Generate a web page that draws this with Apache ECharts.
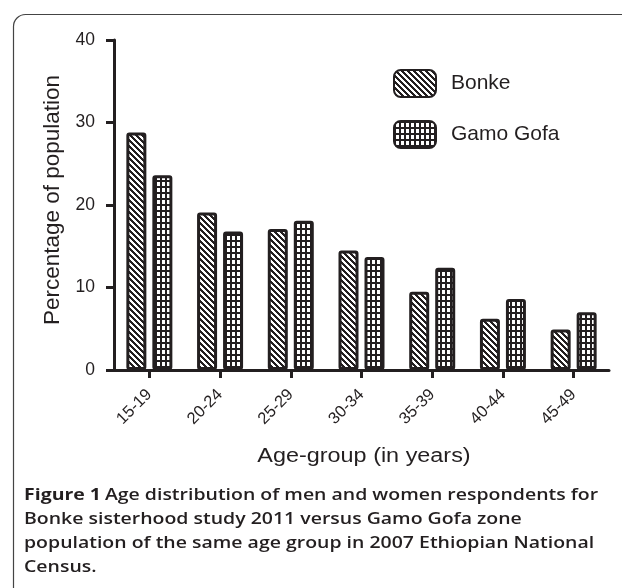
<!DOCTYPE html>
<html>
<head>
<meta charset="utf-8">
<script src="https://cdn.jsdelivr.net/npm/echarts@6/dist/echarts.min.js"></script>
<style>
html,body{margin:0;padding:0;background:#fff;}
#chart{width:622px;height:588px;}
</style>
</head>
<body>
<div id="chart"></div>
<script>
const categories = ['15-19','20-24','25-29','30-34','35-39','40-44','45-49'];
const bonke = [28.8, 19.1, 17.1, 14.5, 9.5, 6.2, 4.9];
const gamoGofa = [23.6, 16.8, 18.1, 13.7, 12.4, 8.6, 7.0];
const yTicks = [0, 10, 20, 30, 40];
const seriesNames = ['Bonke', 'Gamo Gofa'];
const xAxisTitle = 'Age-group (in years)';
const yAxisTitle = 'Percentage of population';
const captionLines = [
  'Age distribution of men and women respondents for',
  'Bonke sisterhood study 2011 versus Gamo Gofa zone',
  'population of the same age group in 2007 Ethiopian National',
  'Census.'
];

const INK = '#231f20';

function diagPattern() {
  const s = 6;
  const c = document.createElement('canvas');
  c.width = s; c.height = s;
  const g = c.getContext('2d');
  g.fillStyle = '#fff'; g.fillRect(0, 0, s, s);
  g.fillStyle = INK;
  for (let y = 0; y < s; y++) {
    for (let x = 0; x < s; x++) {
      if (((x - y) % s + s) % s < 3) g.fillRect(x, y, 1, 1);
    }
  }
  return c;
}
function gridPattern() {
  const w = 5, h = 6;
  const c = document.createElement('canvas');
  c.width = w; c.height = h;
  const g = c.getContext('2d');
  g.fillStyle = '#fff'; g.fillRect(0, 0, w, h);
  g.fillStyle = INK;
  g.fillRect(0, 0, w, 2);
  g.fillRect(0, 0, 2, h);
  return c;
}

const chart = echarts.init(document.getElementById('chart'));
const font = '"Liberation Sans", Arial, Helvetica, sans-serif';
const capFont = '"Open Sans", "Noto Sans", sans-serif';

const option = {
  animation: false,
  backgroundColor: '#fff',
  textStyle: { fontFamily: font, color: INK },
  grid: { left: 114, right: 13, top: 40, bottom: 218, containLabel: false },
  legend: {
    orient: 'vertical',
    left: 393, top: 69,
    itemWidth: 42, itemHeight: 27, itemGap: 22,
    padding: 0,
    data: seriesNames,
    textStyle: { fontFamily: font, fontSize: 21, color: INK, padding: [0, 0, 0, 10] }
  },
  xAxis: {
    type: 'category',
    data: categories,
    axisLine: { show: true, lineStyle: { color: INK, width: 3 } },
    axisTick: { show: true, alignWithLabel: true, length: 8, lineStyle: { color: INK, width: 3 } },
    axisLabel: { rotate: 45, fontSize: 16.5, color: INK, margin: 22, fontFamily: font },
    splitLine: { show: false }
  },
  yAxis: {
    type: 'value',
    min: yTicks[0], max: yTicks[yTicks.length - 1], interval: 10,
    name: yAxisTitle,
    nameLocation: 'middle',
    nameGap: 50,
    nameTextStyle: { fontFamily: font, fontSize: 22.5, color: INK, padding: [0, 0, 0, 10] },
    axisLine: { show: true, lineStyle: { color: INK, width: 3 } },
    axisTick: { show: true, length: 8, lineStyle: { color: INK, width: 3 } },
    axisLabel: { fontSize: 17.5, color: INK, margin: 19, fontFamily: font },
    splitLine: { show: false }
  },
  series: [
    {
      name: seriesNames[0], type: 'bar', data: bonke,
      barWidth: 20, barGap: '30%',
      itemStyle: { color: { image: diagPattern(), repeat: 'repeat' }, borderColor: INK, borderWidth: 3, borderRadius: 1.5 }
    },
    {
      name: seriesNames[1], type: 'bar', data: gamoGofa,
      barWidth: 20, barGap: '30%',
      itemStyle: { color: { image: gridPattern(), repeat: 'repeat' }, borderColor: INK, borderWidth: 3, borderRadius: 1.5 }
    }
  ],
  graphic: [
    {
      type: 'rect', left: 11, top: 12, silent: true, z: -1,
      shape: { x: 0, y: 0, width: 650, height: 620, r: 12 },
      style: { fill: 'none', stroke: '#444', lineWidth: 1.2 }
    },
    {
      type: 'text', x: 364, y: 456, scaleX: 1.17,
      style: {
        text: xAxisTitle, fontFamily: font, fontSize: 20, fill: INK,
        align: 'center', verticalAlign: 'middle'
      }
    },
    {
      type: 'text', x: 24, y: 483, scaleX: 1.18,
      style: {
        text: '{b|Figure 1} ' + captionLines.map((l) => '{n|' + l + '}').join('\n'),
        rich: {
          b: { fontFamily: capFont, fontWeight: 700, fontSize: 16.5, lineHeight: 24, fill: INK },
          n: { fontFamily: capFont, fontWeight: 600, fontSize: 16.5, lineHeight: 24, fill: INK }
        }
      }
    }
  ]
};
chart.setOption(option);
</script>
</body>
</html>
